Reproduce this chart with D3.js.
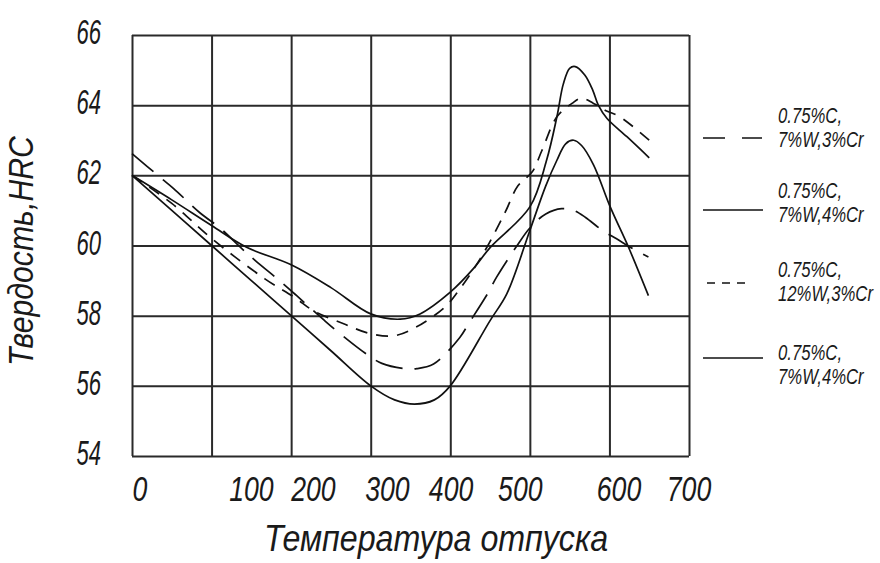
<!DOCTYPE html>
<html>
<head>
<meta charset="utf-8">
<script src="https://cdn.jsdelivr.net/npm/d3@7"></script>
<style>
  body { margin: 0; background: #fff; }
  text { font-family: 'Liberation Sans', Arial, sans-serif; font-style: italic; fill: #1a1a1a; }
</style>
</head>
<body>
<svg id="chart" width="880" height="563"></svg>
<script>
// temperature ticks and where the hand-placed labels sit (data units)
var xTicks = [0, 100, 200, 300, 400, 500, 600, 700];
var xLabelAt = [10, 150, 228, 321, 401, 488, 612, 700];
var yTicks = [54, 56, 58, 60, 62, 64, 66];

// 0.75%C, 7%W,3%Cr  (long dash)
var tempLong = [0, 35, 52, 86, 111, 138, 155, 190, 207, 240, 257, 295, 314, 340, 358, 379, 412, 423, 448, 458, 484, 500, 520, 540, 555, 570, 590, 609, 630, 649];
var hrcLong = [62.62, 61.95, 61.63, 60.92, 60.49, 59.91, 59.57, 58.91, 58.57, 57.9, 57.57, 56.9, 56.64, 56.5, 56.49, 56.62, 57.38, 57.77, 58.67, 59.09, 60.0, 60.5, 60.9, 61.05, 61.0, 60.8, 60.45, 60.19, 59.9, 59.67];

// 0.75%C, 7%W,4%Cr  (upper solid)
var tempSolidA = [0, 50, 100, 144, 200, 250, 300, 337, 362, 400, 429, 450, 500, 521, 534, 542, 550, 557, 569, 579, 586, 597, 622, 650];
var hrcSolidA = [62, 61.3, 60.57, 59.95, 59.45, 58.8, 58.05, 57.9, 58.05, 58.67, 59.34, 59.94, 61.1, 62.43, 63.67, 64.6, 65.05, 65.1, 64.86, 64.43, 64.0, 63.62, 63.1, 62.5];

// 0.75%C, 12%W,3%Cr  (short dash)
var tempShort = [0, 50, 100, 167, 205, 228, 266, 299, 330, 356, 393, 410, 430, 446, 469, 485, 503, 515, 534, 553, 565, 580, 595, 613, 650];
var hrcShort = [62, 61.2, 60.2, 59.05, 58.51, 58.14, 57.77, 57.49, 57.43, 57.66, 58.24, 58.7, 59.35, 59.95, 60.95, 61.7, 62.1, 62.7, 63.67, 64.05, 64.2, 64.05, 63.85, 63.67, 63.0];

// 0.75%C, 7%W,4%Cr  (lower solid)
var tempSolidB = [0, 50, 100, 150, 200, 250, 300, 330, 355, 380, 400, 450, 471, 500, 520, 534, 545, 555, 565, 580, 601, 624, 649];
var hrcSolidB = [62, 61, 60, 59, 58, 57, 56, 55.6, 55.48, 55.6, 56, 57.86, 58.62, 60.43, 61.7, 62.43, 62.9, 63.0, 62.85, 62.3, 61.1, 59.95, 58.57];

var legendNames = [["0.75%C,", "7%W,3%Cr"], ["0.75%C,", "7%W,4%Cr"], ["0.75%C,", "12%W,3%Cr"], ["0.75%C,", "7%W,4%Cr"]];

var series = [
  { t: tempLong, h: hrcLong, dash: "28,12", legendDash: "22,17" },
  { t: tempSolidA, h: hrcSolidA, dash: null, legendDash: null },
  { t: tempShort, h: hrcShort, dash: "12,9", legendDash: "8,7" },
  { t: tempSolidB, h: hrcSolidB, dash: null, legendDash: null }
];

var svg = d3.select("#chart");
var plotLeft = 132, plotRight = 689, plotTop = 35, plotBottom = 456;

var x = d3.scaleLinear().domain([0, 700]).range([plotLeft, plotRight]);
var y = d3.scaleLinear().domain([54, 66]).range([plotBottom, plotTop]);

// narrow drawing-style lettering: squeeze an italic face sideways
function label(parent, px, py, str, size, sx, anchor) {
  return parent.append("text")
    .attr("transform", "translate(" + px + "," + py + ") scale(" + sx + ",1)")
    .attr("text-anchor", anchor)
    .attr("font-size", size)
    .text(str);
}

// grid
svg.append("g")
  .attr("transform", "translate(0," + plotBottom + ")")
  .call(d3.axisBottom(x).tickValues(xTicks).tickSize(-(plotBottom - plotTop)).tickFormat(""))
  .call(function(g) {
    g.select(".domain").remove();
    g.selectAll("line").attr("stroke", "#2a2a2a").attr("stroke-width", 2);
  });

svg.append("g")
  .attr("transform", "translate(" + plotLeft + ",0)")
  .call(d3.axisLeft(y).tickValues(yTicks).tickSize(-(plotRight - plotLeft)).tickFormat(""))
  .call(function(g) {
    g.select(".domain").remove();
    g.selectAll("line").attr("stroke", "#2a2a2a").attr("stroke-width", 2);
  });

// y tick labels
var yl = svg.append("g");
yTicks.forEach(function(v) {
  label(yl, 101, y(v) + 9, v, 35, 0.63, "end");
});

// x tick labels, placed as in the drawing
var xl = svg.append("g");
xTicks.forEach(function(v, i) {
  label(xl, x(xLabelAt[i]), 501, v, 36, 0.74, "middle");
});

// axis titles
label(svg, 436, 551, "Температура отпуска", 37, 0.87, "middle");

svg.append("text")
  .attr("transform", "translate(33,251) rotate(-90) scale(0.84,1)")
  .attr("text-anchor", "middle")
  .attr("font-size", 36)
  .text("Твердость,HRC");

// curves
var line = d3.line()
  .x(function(d) { return x(d[0]); })
  .y(function(d) { return y(d[1]); })
  .curve(d3.curveCatmullRom.alpha(0.5));

series.forEach(function(s) {
  var pts = s.t.map(function(t, i) { return [t, s.h[i]]; });
  svg.append("path")
    .datum(pts)
    .attr("d", line)
    .attr("fill", "none")
    .attr("stroke", "#111")
    .attr("stroke-width", 1.7)
    .attr("stroke-dasharray", s.dash);
});

// legend
var legendLineY = [138, 210, 283, 358];
var legendTextY = [123, 198, 277, 360];
var legendLineX = [[703, 762], [703, 763], [707, 745], [703, 763]];

var lg = svg.append("g");
series.forEach(function(s, i) {
  lg.append("line")
    .attr("x1", legendLineX[i][0]).attr("x2", legendLineX[i][1])
    .attr("y1", legendLineY[i]).attr("y2", legendLineY[i])
    .attr("stroke", "#111")
    .attr("stroke-width", 1.7)
    .attr("stroke-dasharray", s.legendDash);
  label(lg, 778, legendTextY[i], legendNames[i][0], 22, 0.76, "start");
  label(lg, 778, legendTextY[i] + 24, legendNames[i][1], 22, 0.76, "start");
});
</script>
</body>
</html>
